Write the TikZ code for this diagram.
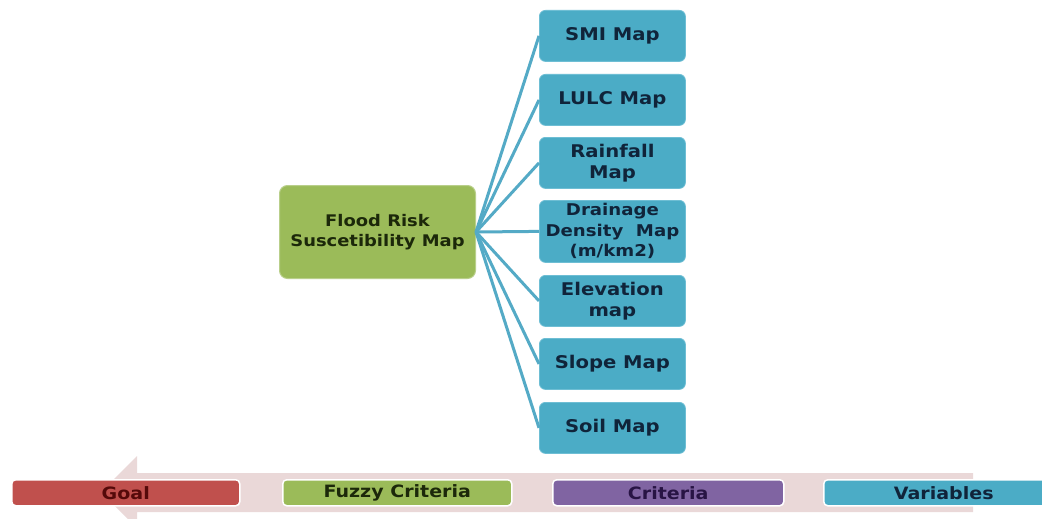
\documentclass[tikz,border=0pt]{standalone}
\usepackage{fontspec}
\setmainfont{DejaVu Sans}[FakeStretch=1.12]
\definecolor{varblue}{RGB}{75,172,198}
\definecolor{varedge}{RGB}{110,190,212}
\definecolor{vartext}{RGB}{16,36,58}
\definecolor{fzgreen}{RGB}{155,187,89}
\definecolor{fztext}{RGB}{28,40,10}
\definecolor{goalred}{RGB}{192,80,77}
\definecolor{goaltext}{RGB}{85,10,10}
\definecolor{critpurple}{RGB}{128,100,162}
\definecolor{crittext}{RGB}{40,20,68}
\definecolor{bandpink}{RGB}{234,216,216}
\definecolor{connblue}{RGB}{84,170,198}
\tikzset{
  txt/.style={font=\bfseries\fontsize{16}{20}\selectfont, align=center, inner sep=0pt},
  vtxt/.style={font=\bfseries\fontsize{17.5}{21}\selectfont, align=center, inner sep=0pt},
  varbox/.style={vtxt, draw=varedge, line width=0.8pt, fill=varblue, text=vartext, rounded corners=6pt,
    minimum width=146pt, minimum height=51pt, anchor=north west},
  goalbox/.style={txt, draw=fzgreen!70!white, line width=1pt, fill=fzgreen, text=fztext, rounded corners=8pt,
    minimum width=196pt, minimum height=93pt, anchor=north west},
  barbox/.style={font=\bfseries\fontsize{17}{20}\selectfont, align=center, inner sep=0pt,
    draw=white, line width=1.5pt, rounded corners=4pt, minimum height=26pt, anchor=north west},
  conn/.style={draw=connblue, line width=3pt}
}
\begin{document}
\begin{tikzpicture}[x=1pt,y=-1pt]
\useasboundingbox (0,0) rectangle (1042,519);
\clip (0,0) rectangle (1042,519);
\fill[white] (0,0) rectangle (1042,519);
% legend arrow band
\fill[bandpink] (973,473) -- (137,473) -- (137,456) -- (101,492) -- (137,528) -- (137,512) -- (973,512) -- cycle;
% goal
\node[goalbox] (flood) at (279,185) {Flood Risk\\Suscetibility Map};
% variables
\node[varbox] (smi) at (539,10) {SMI Map};
\node[varbox] (lulc) at (539,74) {LULC Map};
\node[varbox] (rain) at (539,137) {Rainfall\\Map};
\node[varbox, minimum height=62pt, font=\bfseries\fontsize{16.2}{20.5}\selectfont] (drain) at (539,200) {Drainage\\Density~ Map\\(m/km2)};
\node[varbox] (elev) at (539,275) {Elevation\\map};
\node[varbox] (slope) at (539,338) {Slope Map};
\node[varbox] (soil) at (539,402) {Soil Map};
% connectors
\foreach \n in {smi,lulc,rain,drain,elev,slope,soil}
  \draw[conn] (flood.east) -- (\n.west);
% legend boxes
\node[barbox, fill=goalred, text=goaltext, minimum width=228pt] (lgoal) at (11,479) {Goal};
\node[barbox, fill=fzgreen, text=fztext, minimum width=229pt] (lfuzzy) at (282,479) {Fuzzy Criteria};
\node[barbox, fill=critpurple, text=crittext, minimum width=231pt] (lcrit) at (552,479) {Criteria};
\node[barbox, fill=varblue, text=vartext, minimum width=240pt] (lvar) at (823,479) {Variables};
\end{tikzpicture}
\end{document}
